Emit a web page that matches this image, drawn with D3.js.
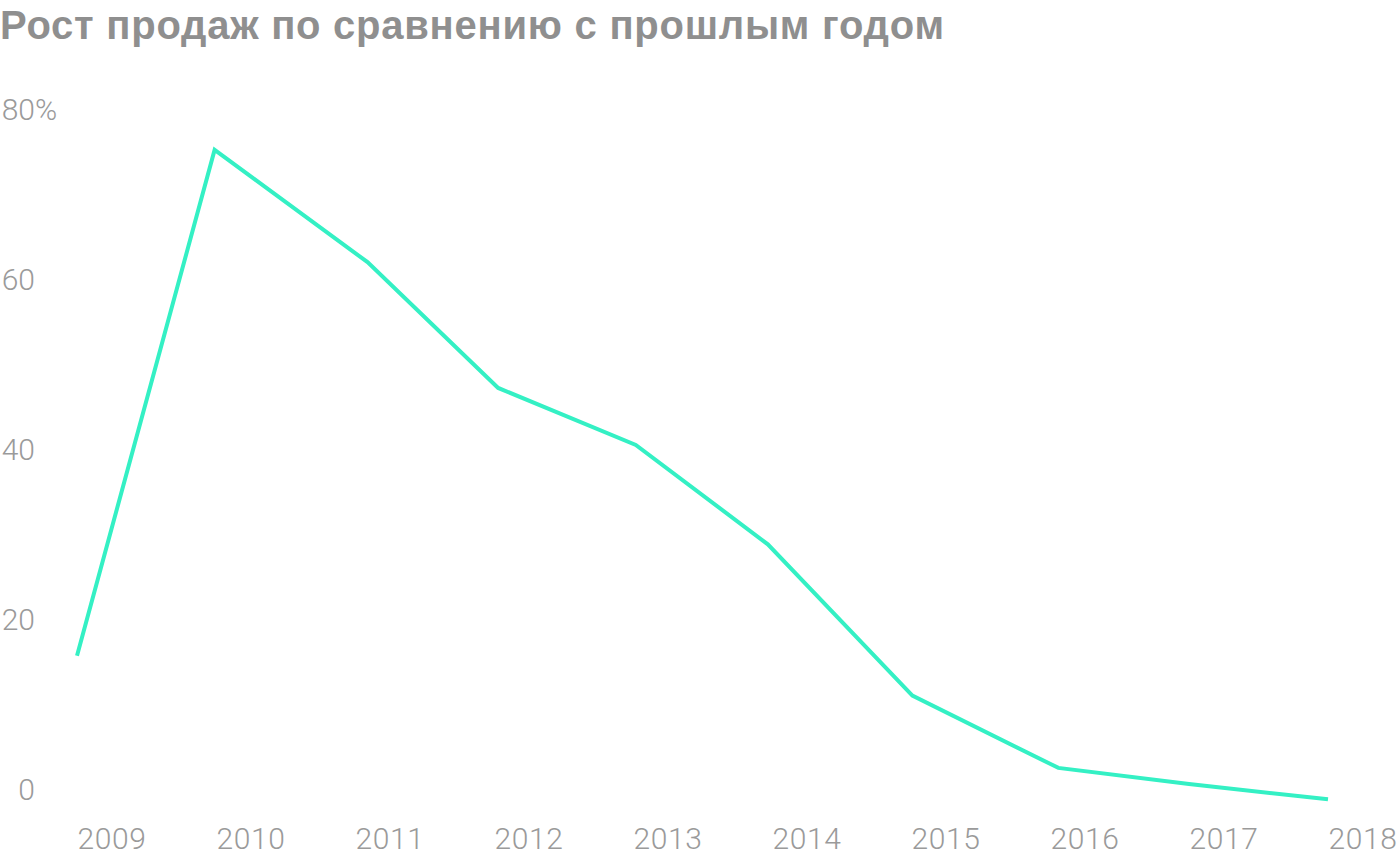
<!DOCTYPE html>
<html>
<head>
<meta charset="utf-8">
<script src="https://cdn.jsdelivr.net/npm/d3@7"></script>
<style>
    body { margin: 0; background: #fff; }
</style>
</head>
<body>
<div id="chart"></div>
<script>
// sales growth vs previous year, %
const title = "Рост продаж по сравнению с прошлым годом";
const pointYears = [2009.0, 2009.99, 2011.09, 2012.03, 2013.02, 2013.97, 2015.01, 2016.06, 2017.0, 2018.0];
const growth = [15.8, 75.3, 62.1, 47.3, 40.6, 28.9, 11.1, 2.6, 0.7, -1.1];
const yearTicks = [2009, 2010, 2011, 2012, 2013, 2014, 2015, 2016, 2017, 2018];
const valueTicks = [0, 20, 40, 60, 80];

const width = 1400, height = 860;
const labelColor = '#9a9a9a';
const svg = d3.select('#chart').append('svg').attr('width', width).attr('height', height);

const x = d3.scaleLinear().domain([2009, 2018]).range([77, 1328]);
const y = d3.scaleLinear().domain([0, 80]).range([790, 110]);

svg.append('text')
    .attr('x', 0)
    .attr('y', 39)
    .style('font-size', '40px')
    .style('font-weight', 700)
    .style('letter-spacing', '0.75px')
    .style('font-family', '"Liberation Sans", Arial, sans-serif')
    .attr('fill', '#8f8f8f')
    .text(title);

// y axis, labels only
const yAxis = svg.append('g')
    .attr('transform', 'translate(35,0)')
    .call(d3.axisLeft(y).tickValues(valueTicks).tickSize(0).tickPadding(0));
yAxis.select('.domain').remove();
yAxis.selectAll('text')
    .attr('font-size', 30)
    .attr('fill', labelColor)
    .attr('font-family', 'Roboto, sans-serif')
    .attr('font-weight', 300);
yAxis.append('text')
    .attr('x', 0)
    .attr('y', y(80))
    .attr('dy', '0.32em')
    .attr('text-anchor', 'start')
    .attr('font-size', 30)
    .attr('font-weight', 300)
    .attr('font-family', 'Roboto, sans-serif')
    .attr('fill', labelColor)
    .text('%');

// x axis, labels left-aligned at each year
const xAxis = svg.append('g')
    .attr('transform', 'translate(0,828)')
    .call(d3.axisBottom(x).tickValues(yearTicks).tickFormat(d3.format('d')).tickSize(0).tickPadding(0));
xAxis.select('.domain').remove();
xAxis.selectAll('text')
    .attr('text-anchor', 'start')
    .attr('font-size', 30)
    .attr('letter-spacing', 0.6)
    .attr('font-weight', 300)
    .attr('fill', labelColor)
    .attr('font-family', 'Roboto, sans-serif');

const line = d3.line()
    .x((d, i) => x(pointYears[i]))
    .y(d => y(d));

svg.append('path')
    .datum(growth)
    .attr('d', line)
    .style('fill', 'none')
    .style('stroke', '#34f0c4')
    .style('stroke-width', 4)
    .style('stroke-linejoin', 'miter');
</script>
</body>
</html>
